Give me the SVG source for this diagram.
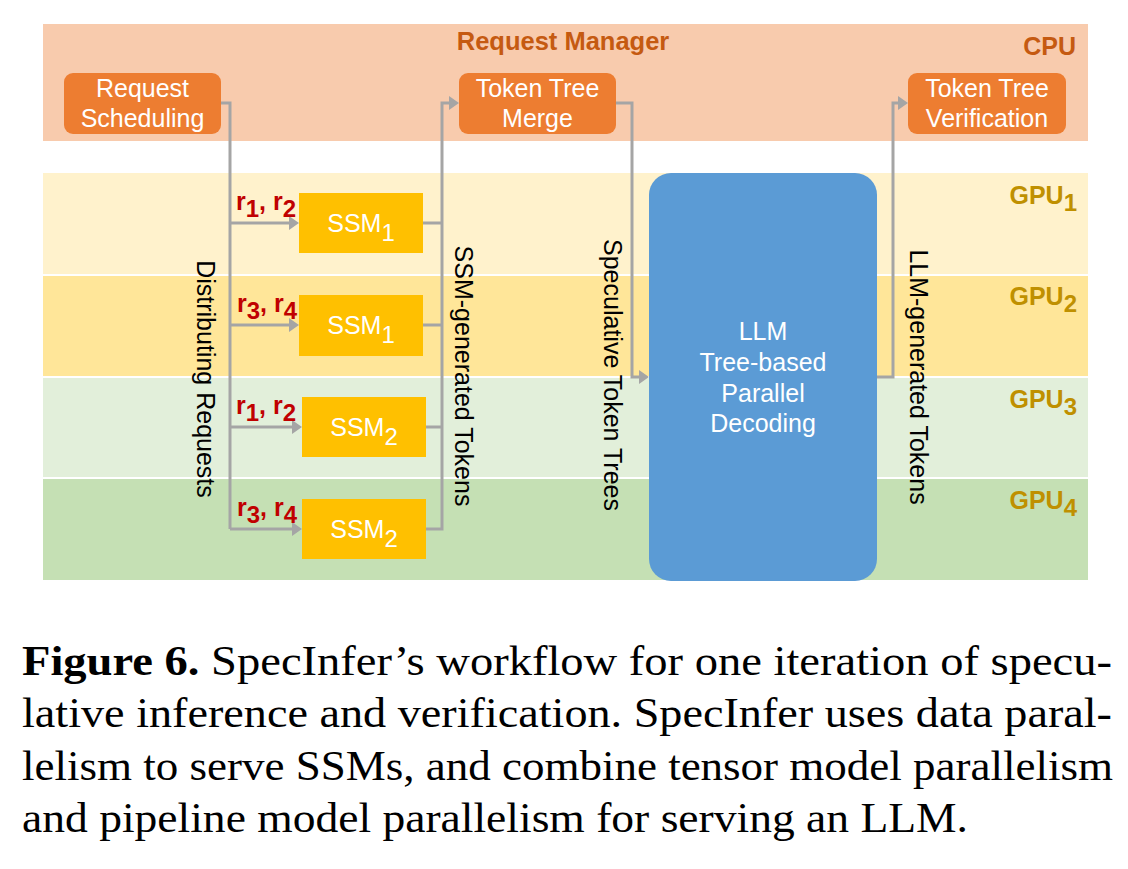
<svg xmlns="http://www.w3.org/2000/svg" width="1128" height="869" viewBox="0 0 1128 869">
<style>
.sans{font-family:"Liberation Sans",Arial,sans-serif}
.box{fill:#ED7D31}
.ssm{fill:#FFC000}
.wt{fill:#FFFFFF;font-size:25px;text-anchor:middle}
.vt{fill:#000000;font-size:25px;text-anchor:middle}
.gpu{fill:#BF9000;font-size:25px;font-weight:bold;text-anchor:end}
.rl{fill:#C00000;font-size:25px;font-weight:bold}
.con{fill:none;stroke:#A5A5A5;stroke-width:3}
.cap{font-family:"Liberation Serif","Times New Roman",serif;font-size:43px;fill:#000}
</style>
<defs>
<marker id="arr" markerUnits="userSpaceOnUse" markerWidth="10" markerHeight="14" viewBox="0 0 10 14" refX="1" refY="7" orient="auto">
<path d="M0,0 L10,7 L0,14 Z" fill="#A5A5A5"/>
</marker>
</defs>
<rect width="1128" height="869" fill="#FFFFFF"/>
<g id="bands">
<rect x="43" y="24" width="1045" height="117" fill="#F8CBAD"/>
<rect x="43" y="173" width="1045" height="101" fill="#FFF2CC"/>
<rect x="43" y="276" width="1045" height="100" fill="#FFE699"/>
<rect x="43" y="378" width="1045" height="99" fill="#E2EFDA"/>
<rect x="43" y="479" width="1045" height="101" fill="#C5E0B4"/>
</g>
<g id="band-labels" class="sans">
<text x="563" y="50" font-size="25.5" font-weight="bold" fill="#C55A11" text-anchor="middle">Request Manager</text>
<text x="1076" y="55" font-size="25" font-weight="bold" fill="#C55A11" text-anchor="end">CPU</text>
<text class="gpu" x="1077" y="204">GPU<tspan font-size="24" dy="7">1</tspan></text>
<text class="gpu" x="1077" y="305">GPU<tspan font-size="24" dy="7">2</tspan></text>
<text class="gpu" x="1077" y="408">GPU<tspan font-size="24" dy="7">3</tspan></text>
<text class="gpu" x="1077" y="509">GPU<tspan font-size="24" dy="7">4</tspan></text>
</g>
<g id="connectors">
<path class="con" d="M221,103 H230 V529"/>
<path class="con" d="M230,223 H290" marker-end="url(#arr)"/>
<path class="con" d="M230,325 H290" marker-end="url(#arr)"/>
<path class="con" d="M230,427 H293" marker-end="url(#arr)"/>
<path class="con" d="M230,529 H293" marker-end="url(#arr)"/>
<path class="con" d="M423,223 H442"/>
<path class="con" d="M423,325 H442"/>
<path class="con" d="M426,427 H442"/>
<path class="con" d="M426,529 H442 V103 H450" marker-end="url(#arr)"/>
<path class="con" d="M616,103 H632 V377 H640" marker-end="url(#arr)"/>
<path class="con" d="M877,377 H893 V103 H899" marker-end="url(#arr)"/>
</g>
<g id="connector-labels" class="sans">
<text class="rl" x="236" y="210">r<tspan font-size="24" dy="7">1</tspan><tspan dy="-7">, r</tspan><tspan font-size="24" dy="7">2</tspan></text>
<text class="rl" x="237" y="312">r<tspan font-size="24" dy="7">3</tspan><tspan dy="-7">, r</tspan><tspan font-size="24" dy="7">4</tspan></text>
<text class="rl" x="236" y="414">r<tspan font-size="24" dy="7">1</tspan><tspan dy="-7">, r</tspan><tspan font-size="24" dy="7">2</tspan></text>
<text class="rl" x="237" y="516">r<tspan font-size="24" dy="7">3</tspan><tspan dy="-7">, r</tspan><tspan font-size="24" dy="7">4</tspan></text>
<text class="vt" transform="translate(197,379) rotate(90)">Distributing Requests</text>
<text class="vt" transform="translate(455,376) rotate(90)">SSM-generated Tokens</text>
<text class="vt" transform="translate(604,375) rotate(90)">Speculative Token Trees</text>
<text class="vt" transform="translate(910,377) rotate(90)">LLM-generated Tokens</text>
</g>
<g id="request-scheduling" class="sans">
<rect class="box" x="64" y="73" width="157" height="61" rx="9"/>
<text class="wt" x="142.5" y="97">Request</text>
<text class="wt" x="142.5" y="127">Scheduling</text>
</g>
<g id="token-tree-merge" class="sans">
<rect class="box" x="459" y="73" width="157" height="61" rx="9"/>
<text class="wt" x="537.5" y="97">Token Tree</text>
<text class="wt" x="537.5" y="127">Merge</text>
</g>
<g id="token-tree-verification" class="sans">
<rect class="box" x="908" y="73" width="158" height="61" rx="9"/>
<text class="wt" x="987" y="97">Token Tree</text>
<text class="wt" x="987" y="127">Verification</text>
</g>
<g id="ssm1-gpu1" class="sans">
<rect class="ssm" x="299" y="193" width="124" height="60"/>
<text class="wt" x="361" y="232">SSM<tspan font-size="24" dy="9">1</tspan></text>
</g>
<g id="ssm1-gpu2" class="sans">
<rect class="ssm" x="299" y="295" width="124" height="61"/>
<text class="wt" x="361" y="334">SSM<tspan font-size="24" dy="9">1</tspan></text>
</g>
<g id="ssm2-gpu3" class="sans">
<rect class="ssm" x="302" y="397" width="124" height="60"/>
<text class="wt" x="364" y="436">SSM<tspan font-size="24" dy="9">2</tspan></text>
</g>
<g id="ssm2-gpu4" class="sans">
<rect class="ssm" x="302" y="499" width="124" height="60"/>
<text class="wt" x="364" y="538">SSM<tspan font-size="24" dy="9">2</tspan></text>
</g>
<g id="llm" class="sans">
<rect x="649" y="173" width="228" height="408" rx="22" fill="#5B9BD5"/>
<text class="wt" x="763" y="340">LLM</text>
<text class="wt" x="763" y="371">Tree-based</text>
<text class="wt" x="763" y="402">Parallel</text>
<text class="wt" x="763" y="432">Decoding</text>
</g>
<g id="caption" class="cap">
<text x="22" y="675" textLength="1090" lengthAdjust="spacingAndGlyphs"><tspan font-weight="bold">Figure 6.</tspan> SpecInfer’s workflow for one iteration of specu-</text>
<text x="22" y="727" textLength="1090" lengthAdjust="spacingAndGlyphs">lative inference and verification. SpecInfer uses data paral-</text>
<text x="22" y="780" textLength="1091" lengthAdjust="spacingAndGlyphs">lelism to serve SSMs, and combine tensor model parallelism</text>
<text x="22" y="832" textLength="946" lengthAdjust="spacingAndGlyphs">and pipeline model parallelism for serving an LLM.</text>
</g>
</svg>
